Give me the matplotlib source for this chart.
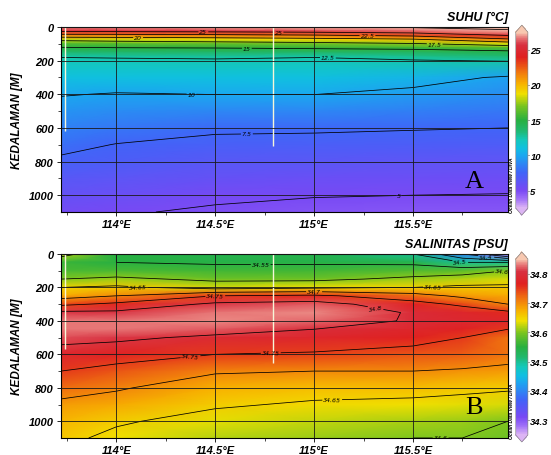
"""Penampang suhu dan salinitas (gaya Ocean Data View)."""
import matplotlib.pyplot as plt
import numpy as np
from matplotlib.cm import ScalarMappable
from matplotlib.colors import LinearSegmentedColormap, Normalize


# Suhu [degC]: satu baris per bujur, nilai per kedalaman.
lon_suhu = [113.72, 114.0, 114.5, 115.0, 115.5, 115.98]
depth_suhu = [0, 25, 50, 75, 100, 125, 150, 175, 200, 300, 400, 500, 600,
              700, 800, 900, 1000, 1100]
suhu_profiles = [
    [26.8, 25.2, 21.5, 18.0, 16.0, 14.8, 13.6, 12.6, 12.2, 11.0, 10.1, 9.3,
     8.6, 7.9, 7.25, 6.5, 5.9, 5.3],
    [27.0, 25.4, 21.5, 18.3, 16.2, 14.9, 13.7, 12.7, 12.2, 11.0, 9.9, 9.0,
     8.2, 7.45, 6.9, 6.3, 5.7, 5.1],
    [27.3, 25.6, 21.8, 18.6, 16.5, 15.0, 13.8, 12.8, 12.3, 11.0, 10.02, 8.8,
     7.75, 7.1, 6.5, 5.85, 5.2, 4.85],
    [27.55, 25.9, 22.2, 19.0, 16.8, 15.2, 13.9, 12.6, 12.2, 11.0, 10.02, 8.8,
     7.7, 7.05, 6.4, 5.7, 5.05, 4.7],
    [27.7, 26.4, 23.0, 19.6, 17.3, 15.4, 14.1, 13.0, 12.4, 10.6, 9.6, 8.5,
     7.6, 6.9, 6.2, 5.6, 5.0, 4.6],
    [28.0, 27.2, 25.0, 22.0, 18.5, 16.0, 14.5, 13.5, 12.6, 9.8, 9.0, 8.2,
     7.5, 6.8, 6.1, 5.5, 4.95, 4.6],
]

# Salinitas [PSU]
lon_sal = [113.72, 114.0, 114.5, 115.0, 115.5, 115.75, 115.98]
depth_sal = [0, 50, 100, 150, 200, 250, 300, 350, 400, 450, 500, 600, 700,
             800, 900, 1000, 1100]
sal_profiles = [
    [34.62, 34.56, 34.57, 34.60, 34.65, 34.68, 34.74, 34.81, 34.83, 34.83,
     34.815, 34.78, 34.75, 34.72, 34.69, 34.67, 34.66],
    [34.55, 34.55, 34.57, 34.61, 34.66, 34.70, 34.76, 34.81, 34.83, 34.83,
     34.81, 34.77, 34.735, 34.705, 34.68, 34.655, 34.64],
    [34.54, 34.545, 34.565, 34.59, 34.63, 34.75, 34.81, 34.83, 34.835, 34.82,
     34.79, 34.75, 34.705, 34.675, 34.655, 34.635, 34.62],
    [34.54, 34.545, 34.565, 34.59, 34.64, 34.76, 34.82, 34.835, 34.825, 34.80,
     34.78, 34.745, 34.70, 34.665, 34.645, 34.625, 34.61],
    [34.50, 34.54, 34.575, 34.61, 34.65, 34.72, 34.77, 34.795, 34.795, 34.78,
     34.765, 34.735, 34.70, 34.665, 34.64, 34.615, 34.60],
    [34.40, 34.50, 34.58, 34.62, 34.66, 34.69, 34.74, 34.78, 34.785, 34.77,
     34.75, 34.73, 34.695, 34.66, 34.635, 34.61, 34.60],
    [34.28, 34.50, 34.60, 34.63, 34.66, 34.68, 34.70, 34.76, 34.78, 34.75,
     34.715, 34.715, 34.69, 34.655, 34.63, 34.60, 34.59],
]

suhu_levels = [5, 7.5, 10, 12.5, 15, 17.5, 20, 22.5, 25, 27.5]
sal_levels = [34.35, 34.4, 34.45, 34.5, 34.55, 34.6, 34.65, 34.7, 34.75, 34.8]
suhu_ticks = [5, 10, 15, 20, 25]
sal_ticks = [34.3, 34.4, 34.5, 34.6, 34.7, 34.8]
lon_ticks = [114.0, 114.5, 115.0, 115.5]
depth_ticks = [0, 200, 400, 600, 800, 1000]

# Letak label kontur (bujur, kedalaman) seperti pada gambar asli.
suhu_label_pos = [(114.82, 5), (114.44, 20), (115.27, 45), (114.11, 62),
                  (115.61, 95), (114.66, 125), (115.07, 175), (114.38, 395),
                  (114.66, 630), (115.43, 1005)]
sal_label_pos = [(115.74, 40), (115.87, 20), (115.95, 100), (114.73, 80),
                 (115.6, 170), (114.11, 205), (115.0, 230), (114.5, 250),
                 (115.31, 330), (114.78, 540), (114.38, 675), (115.09, 795),
                 (115.64, 1050)]

# Garis stasiun putih.
station_lon = [113.74, 114.79]
station_depth_suhu = [620, 710]
station_depth_sal = [570, 650]

odv = LinearSegmentedColormap.from_list('odv', [
    (0.00, '#dcb4f4'), (0.05, '#a070f8'), (0.10, '#7848f4'),
    (0.20, '#4064f8'), (0.30, '#1aa8f0'), (0.34, '#10c0e0'),
    (0.39, '#14c8b8'), (0.44, '#20b870'), (0.50, '#28b040'),
    (0.58, '#78c420'), (0.65, '#f0e000'), (0.71, '#f8b000'),
    (0.78, '#f07010'), (0.86, '#e02020'), (0.93, '#d83040'),
    (0.97, '#e87878'), (1.00, '#f8c8b0')])

FONT = dict(family='Liberation Sans', weight='bold', style='italic')

fig = plt.figure(figsize=(5.51, 4.56), dpi=100)


def panel(rect, cbrect, lon, depth, profiles, vmin, vmax, levels, ticks,
          title, letter, st_depth, label_pos):
    ax = fig.add_axes(rect)
    z = np.array(profiles).T
    ax.pcolormesh(lon, depth, z, cmap=odv, vmin=vmin, vmax=vmax,
                  shading='gouraud', rasterized=True)
    cs = ax.contour(lon, depth, z, levels=levels, colors='k',
                    linewidths=0.55)
    lbl = ax.clabel(cs, fmt='%g', fontsize=4.5, inline=True,
                    inline_spacing=1, manual=label_pos)
    for t in lbl:
        t.set_fontstyle('italic')
    ax.vlines(station_lon, 0, st_depth, colors='#f6f6d8', linewidth=1.0)

    ax.set_xlim(113.72, 115.98)
    ax.set_ylim(1100, 0)
    ax.set_xticks(lon_ticks)
    ax.set_xticklabels(['%g°E' % v for v in lon_ticks], **FONT, fontsize=8)
    ax.set_yticks(depth_ticks)
    ax.set_yticklabels([str(v) for v in depth_ticks], **FONT, fontsize=8)
    ax.set_xticks(np.arange(113.75, 116.0, 0.25), minor=True)
    ax.set_yticks(np.arange(100, 1100, 200), minor=True)
    ax.tick_params(length=3, width=0.6, pad=2)
    ax.tick_params(which='minor', length=2, width=0.5)
    ax.grid(True, color='#1a1a1a', linewidth=0.6)
    ax.set_axisbelow(False)
    for s in ax.spines.values():
        s.set_linewidth(0.8)
    ax.set_ylabel('KEDALAMAN [M]', **FONT, fontsize=8.5, labelpad=4)
    ax.set_title(title, loc='right', **FONT, fontsize=9, pad=5)
    ax.text(0.925, 0.17, letter, transform=ax.transAxes, ha='center',
            va='center', fontsize=19, family='Liberation Serif')
    ax.text(1.008, 0.15, 'Ocean Data View / DIVA', transform=ax.transAxes,
            rotation=90, ha='center', va='center', fontsize=3.6,
            family='Liberation Sans', weight='bold', style='italic')

    cax = fig.add_axes(cbrect)
    sm = ScalarMappable(norm=Normalize(vmin, vmax), cmap=odv)
    cb = fig.colorbar(sm, cax=cax, extend='both', extendfrac=0.04,
                      ticks=ticks)
    cb.outline.set_linewidth(0.5)
    cb.outline.set_edgecolor('#888888')
    cax.tick_params(length=1, width=0.5, pad=0.8)
    cax.set_yticklabels(['%g' % v for v in ticks], **FONT, fontsize=6.8)
    return ax


panel([0.1107, 0.5329, 0.811, 0.4057], [0.936, 0.526, 0.022, 0.4167],
      lon_suhu, depth_suhu, suhu_profiles, 2.5, 27.5, suhu_levels,
      suhu_ticks, 'SUHU [°C]', 'A', station_depth_suhu, suhu_label_pos)
panel([0.1107, 0.0373, 0.811, 0.4035], [0.936, 0.0285, 0.022, 0.4167],
      lon_sal, depth_sal, sal_profiles, 34.25, 34.85, sal_levels,
      sal_ticks, 'SALINITAS [PSU]', 'B', station_depth_sal, sal_label_pos)

plt.savefig('out.png', dpi=100)
